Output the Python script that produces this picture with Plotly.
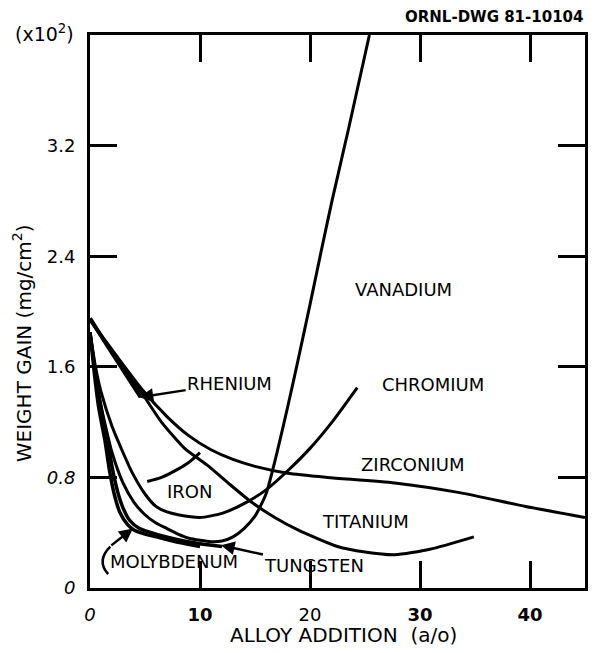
import plotly.graph_objects as go

# Weight gain (x10^2 mg/cm^2) versus alloy addition (a/o) for each alloying element
mo_x = [0, 0.4, 0.8, 1.35, 1.75, 2.2, 2.7, 3.4, 4, 5, 6, 8, 10]
mo_y = [1.85, 1.55, 1.3, 1.07, 0.86, 0.68, 0.55, 0.46, 0.42, 0.39, 0.37, 0.33, 0.30]

w_x = [0, 0.5, 1, 1.6, 2.0, 2.5, 3, 3.6, 4.5, 6, 8, 10, 12]
w_y = [1.85, 1.55, 1.3, 1.07, 0.88, 0.70, 0.58, 0.49, 0.43, 0.39, 0.35, 0.32, 0.30]

v_x = [0, 0.5, 1, 1.5, 2, 3, 4, 5, 6, 7, 8, 9, 10, 11, 12, 13, 14, 15, 16, 17, 18, 19, 20, 21,
       22, 23.5, 25.4]
v_y = [1.85, 1.55, 1.32, 1.14, 0.98, 0.76, 0.62, 0.53, 0.47, 0.43, 0.39, 0.36, 0.345, 0.335, 0.34,
       0.37, 0.43, 0.52, 0.68, 0.98, 1.32, 1.68, 2.05, 2.43, 2.8, 3.32, 4.0]

cr_x = [0, 0.5, 1, 2, 3, 3.8, 5, 6, 7, 8, 10, 12, 14, 16, 18, 20, 22, 24.3]
cr_y = [1.85, 1.6, 1.42, 1.17, 0.98, 0.84, 0.68, 0.59, 0.55, 0.53, 0.51, 0.54, 0.61, 0.71, 0.85,
        1.01, 1.2, 1.45]

fe_x = [5.2, 6.5, 8, 9, 10]
fe_y = [0.77, 0.80, 0.86, 0.91, 0.98]

re_x = [0, 2, 4.6]
re_y = [1.95, 1.70, 1.38]

zr_x = [0, 2.5, 4.8, 7, 9, 11, 13, 15, 18, 21.6, 27.7, 33.6, 39.6, 45]
zr_y = [1.94, 1.67, 1.43, 1.24, 1.10, 1.0, 0.93, 0.88, 0.83, 0.80, 0.76, 0.69, 0.59, 0.51]

ti_x = [0, 2.5, 4.8, 6.5, 8.6, 10.8, 12.7, 14.7, 16.8, 18.9, 22.5, 25, 27.7, 30.9, 34.9]
ti_y = [1.94, 1.65, 1.40, 1.20, 1.01, 0.88, 0.75, 0.62, 0.51, 0.42, 0.30, 0.26, 0.24, 0.28, 0.37]

x_ticks = [0, 10, 20, 30, 40]
x_tick_text = ["<i>0</i>", "<b>10</b>", "20", "<b>30</b>", "<b>40</b>"]
y_ticks = [0, 0.8, 1.6, 2.4, 3.2]
y_tick_text = ["<i>0</i>", "<i>0.8</i>", "1.6", "2.4", "3.2"]

series = [
    ("MOLYBDENUM", mo_x, mo_y, 3.5),
    ("TUNGSTEN", w_x, w_y, 3.5),
    ("VANADIUM", v_x, v_y, 3),
    ("CHROMIUM", cr_x, cr_y, 3),
    ("IRON", fe_x, fe_y, 3),
    ("RHENIUM", re_x, re_y, 4),
    ("ZIRCONIUM", zr_x, zr_y, 3),
    ("TITANIUM", ti_x, ti_y, 3),
]

fig = go.Figure()
for name, xs, ys, lw in series:
    fig.add_trace(go.Scatter(
        x=xs, y=ys, mode="lines", name=name,
        line=dict(color="black", width=lw, shape="spline", smoothing=0.6),
        showlegend=False, hoverinfo="skip",
    ))

FONT = "DejaVu Sans"
label_font = dict(family=FONT, size=18, color="black")

# Curve labels (data coordinates)
labels = [
    ("VANADIUM", 28.5, 2.16),
    ("CHROMIUM", 31.2, 1.47),
    ("ZIRCONIUM", 29.3, 0.89),
    ("IRON", 9.0, 0.70),
    ("TITANIUM", 25.0, 0.48),
    ("MOLYBDENUM", 7.6, 0.19),
]
for text, lx, ly in labels:
    fig.add_annotation(x=lx, y=ly, text=text, showarrow=False, font=label_font,
                       xref="x", yref="y", xanchor="center", yanchor="middle")

arrow_style = dict(showarrow=True, arrowhead=2, arrowsize=1.1, arrowwidth=2.5,
                   arrowcolor="black", axref="x", ayref="y", xref="x", yref="y")

# Labels with pointers
fig.add_annotation(x=4.5, y=1.38, text="RHENIUM", font=label_font,
                   ax=12.7, ay=1.48, **arrow_style)
fig.add_annotation(x=11.9, y=0.31, text="TUNGSTEN", font=label_font,
                   ax=20.4, ay=0.16, **arrow_style)
fig.add_annotation(x=3.9, y=0.43, text="", ax=1.8, ay=0.30, **arrow_style)

# Curled tail of the molybdenum pointer
fig.add_shape(type="path", xref="x", yref="y",
              path="M 1.65,0.10 Q 0.55,0.20 1.85,0.30",
              line=dict(color="black", width=2.5))

# Axis titles and header notes
fig.add_annotation(x=-0.137, y=0.443, xref="paper", yref="paper",
                   xanchor="center", yanchor="middle",
                   text="WEIGHT GAIN (mg/cm<sup>2</sup>)", textangle=-90,
                   showarrow=False, font=dict(family=FONT, size=20, color="black"))
fig.add_annotation(x=0.512, y=-0.085, xref="paper", yref="paper",
                   xanchor="center", yanchor="middle",
                   text="ALLOY ADDITION  (a/o)", showarrow=False,
                   font=dict(family=FONT, size=20, color="black"))
fig.add_annotation(x=-0.092, y=1.004, xref="paper", yref="paper",
                   xanchor="center", yanchor="middle",
                   text="(x10<sup>2</sup>)", showarrow=False,
                   font=dict(family=FONT, size=19, color="black"))
fig.add_annotation(x=0.817, y=1.033, xref="paper", yref="paper",
                   xanchor="center", yanchor="middle",
                   text="<b>ORNL-DWG 81-10104</b>", showarrow=False,
                   font=dict(family=FONT, size=15, color="black"))

axis_common = dict(
    showline=True, linecolor="black", linewidth=3, mirror="allticks",
    ticks="inside", ticklen=27, tickwidth=3, tickcolor="black",
    showgrid=False, zeroline=False,
    tickfont=dict(family=FONT, size=18, color="black"),
    ticklabelstandoff=8,
)

fig.update_xaxes(range=[0, 45], tickvals=x_ticks, ticktext=x_tick_text, **axis_common)
fig.update_yaxes(range=[0, 4.0], tickvals=y_ticks, ticktext=y_tick_text, **axis_common)

fig.update_layout(
    width=594, height=653,
    margin=dict(l=90, r=6, t=35, b=65),
    paper_bgcolor="white", plot_bgcolor="white",
    font=dict(family=FONT, color="black"),
)

fig.write_html("out.html")
